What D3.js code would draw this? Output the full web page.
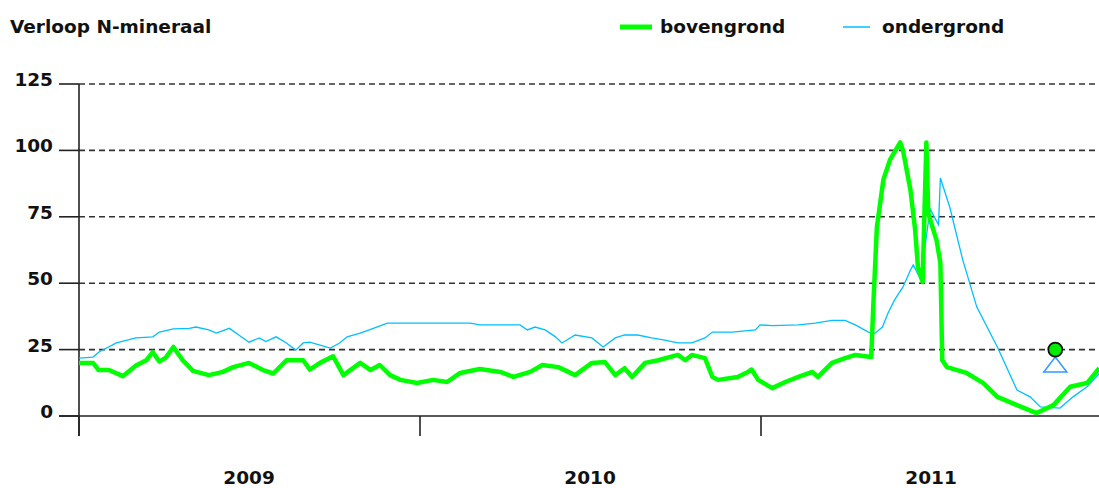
<html>
<head>
<script src="https://d3js.org/d3.v7.min.js"></script>
<style>
body { margin: 0; background: #fff; }
text { font-family: "DejaVu Sans", sans-serif; font-weight: bold; fill: #111; }
</style>
</head>
<body>
<svg width="1099" height="488"></svg>
<script>
// N-mineraal (kg N/ha) per datum
var bovengrond = [
  ["2009-01-01",20],["2009-01-16",20],["2009-01-22",17.3],["2009-02-02",17.3],["2009-02-17",15],
  ["2009-03-03",19],["2009-03-14",21],["2009-03-21",24],["2009-03-28",20.5],["2009-04-04",22],
  ["2009-04-12",26],["2009-04-22",21],["2009-05-03",17],["2009-05-20",15.4],["2009-06-04",16.6],
  ["2009-06-15",18.4],["2009-07-02",20],["2009-07-17",17.3],["2009-07-28",16],["2009-08-11",21],
  ["2009-08-29",21],["2009-09-05",17.5],["2009-09-16",20],["2009-09-30",22.5],["2009-10-11",15.4],
  ["2009-10-29",20],["2009-11-09",17.3],["2009-11-19",19.2],["2009-11-30",15.4],["2009-12-11",13.6],
  ["2009-12-29",12.4],["2010-01-15",13.6],["2010-01-30",12.8],["2010-02-13",16.2],["2010-03-06",17.7],
  ["2010-03-28",16.6],["2010-04-11",14.7],["2010-04-29",16.6],["2010-05-12",19.2],["2010-05-29",18.4],
  ["2010-06-16",15.4],["2010-07-04",20],["2010-07-18",20.3],["2010-07-29",15.4],["2010-08-08",18],
  ["2010-08-16",14.7],["2010-08-30",20],["2010-09-13",21],["2010-10-04",23],["2010-10-12",21],
  ["2010-10-19",23],["2010-11-02",21.8],["2010-11-10",14.7],["2010-11-16",13.6],["2010-12-07",14.7],
  ["2010-12-18",16.6],["2010-12-22",17.5],["2010-12-29",13.6],["2011-01-13",10.5],["2011-01-27",12.8],
  ["2011-02-10",14.7],["2011-02-25",16.6],["2011-03-03",14.7],["2011-03-18",20],["2011-04-01",21.8],
  ["2011-04-12",23],["2011-04-29",22.2],["2011-05-01",40],["2011-05-05",71],["2011-05-12",89],
  ["2011-05-19",96.4],["2011-05-30",103],["2011-06-02",100],["2011-06-10",85],["2011-06-15",70],
  ["2011-06-18",56],["2011-06-23",50.5],["2011-06-27",103],["2011-06-29",76.4],["2011-07-08",66],
  ["2011-07-12",57.6],["2011-07-14",21],["2011-07-19",18.4],["2011-07-30",17.3],["2011-08-09",16.2],
  ["2011-08-27",12.4],["2011-09-11",7.2],["2011-10-02",4.1],["2011-10-23",1.1],["2011-11-10",4.1],
  ["2011-11-28",11],["2011-12-16",12.4],["2011-12-29",18]
];

var ondergrond = [
  ["2009-01-01",21.8],["2009-01-16",22.2],["2009-01-22",24],["2009-02-10",27.5],["2009-03-03",29.4],
  ["2009-03-21",29.8],["2009-03-28",31.6],["2009-04-12",32.8],["2009-04-29",33],["2009-05-06",33.5],
  ["2009-05-20",32.4],["2009-05-28",31.2],["2009-06-11",33],["2009-06-21",30.5],["2009-07-02",27.8],
  ["2009-07-13",29.4],["2009-07-20",28],["2009-07-31",29.8],["2009-08-11",27.5],["2009-08-21",24.8],
  ["2009-08-29",27.5],["2009-09-05",27.8],["2009-09-16",26.7],["2009-09-27",25.6],["2009-10-07",27.5],
  ["2009-10-15",29.8],["2009-10-29",31.2],["2009-11-12",33],["2009-11-27",35],["2010-02-24",35],
  ["2010-03-06",34.3],["2010-04-18",34.3],["2010-04-26",32.4],["2010-05-04",33.5],["2010-05-15",32.4],
  ["2010-05-26",29.8],["2010-06-02",27.5],["2010-06-16",30.5],["2010-07-04",29.4],["2010-07-16",26],
  ["2010-07-29",29.4],["2010-08-08",30.5],["2010-08-22",30.5],["2010-09-06",29.4],["2010-09-20",28.6],
  ["2010-10-04",27.5],["2010-10-19",27.5],["2010-11-02",29.4],["2010-11-10",31.6],["2010-12-01",31.6],
  ["2010-12-26",32.4],["2010-12-31",34.3],["2011-01-13",34],["2011-02-10",34.3],["2011-02-28",35],
  ["2011-03-18",36],["2011-04-01",36],["2011-04-12",34.3],["2011-04-26",31.6],["2011-05-03",31.2],
  ["2011-05-11",33.5],["2011-05-17",38.8],["2011-05-24",43.7],["2011-06-02",48.6],["2011-06-10",55],
  ["2011-06-13",56.9],["2011-06-20",52],["2011-06-26",65],["2011-07-01",78],["2011-07-10",72],
  ["2011-07-12",89.6],["2011-07-22",78.7],["2011-08-05",58.7],["2011-08-20",41],["2011-09-11",26],
  ["2011-10-02",9.8],["2011-10-16",7.2],["2011-10-27",3.4],["2011-11-17",3],["2011-12-01",7.2],
  ["2011-12-16",11],["2011-12-29",16]
];

// gemeten monster
var meetDatum = ["2011-11-12"];
var meetBoven = [25];
var meetOnder = [19.4];

var yTicks = [0, 25, 50, 75, 100, 125];
var jaren = ["2009", "2010", "2011"];

var parse = d3.timeParse("%Y-%m-%d");
var svg = d3.select("svg");

var xscale = d3.scaleTime()
  .domain([parse("2009-01-01"), parse("2012-01-01")])
  .range([79, 1102]);
var yscale = d3.scaleLinear().domain([0, 125]).range([416, 84]);

// raster
yTicks.forEach(function(t) {
  if (t > 0) {
    svg.append("line")
      .attr("x1", 79).attr("x2", 1099)
      .attr("y1", yscale(t)).attr("y2", yscale(t))
      .attr("stroke", "#333").attr("stroke-width", 1.6)
      .attr("stroke-dasharray", "6,4");
  }
  svg.append("line")
    .attr("x1", 59).attr("x2", 79)
    .attr("y1", yscale(t)).attr("y2", yscale(t))
    .attr("stroke", "#222").attr("stroke-width", 1.6);
  svg.append("text").text(t)
    .attr("x", 53).attr("y", yscale(t) + 2)
    .attr("text-anchor", "end")
    .style("font-size", "18.5px");
});

// assen
svg.append("line").attr("x1", 59).attr("x2", 1099)
  .attr("y1", yscale(0)).attr("y2", yscale(0))
  .attr("stroke", "#222").attr("stroke-width", 1.6);
svg.append("line").attr("x1", 79).attr("x2", 79)
  .attr("y1", yscale(125)).attr("y2", 436)
  .attr("stroke", "#222").attr("stroke-width", 1.6);

jaren.forEach(function(j) {
  var x0 = xscale(parse(j + "-01-01"));
  svg.append("line").attr("x1", x0).attr("x2", x0)
    .attr("y1", yscale(0)).attr("y2", 436)
    .attr("stroke", "#222").attr("stroke-width", 1.6);
  svg.append("text").text(j)
    .attr("x", xscale(parse(j + "-07-02")))
    .attr("y", 484)
    .attr("text-anchor", "middle")
    .style("font-size", "18.5px");
});

var line = d3.line()
  .x(function(d) { return xscale(parse(d[0])); })
  .y(function(d) { return yscale(d[1]); });

svg.append("path").attr("d", line(ondergrond))
  .attr("fill", "none").attr("stroke", "#00c0ff").attr("stroke-width", 1.3);

svg.append("path").attr("d", line(bovengrond))
  .attr("fill", "none").attr("stroke", "#00ff00").attr("stroke-width", 4.5)
  .attr("stroke-linejoin", "round");

// meetpunt
for (var i = 0; i < meetDatum.length; i++) {
  var mx = xscale(parse(meetDatum[i]));
  var my = yscale(meetOnder[i]);
  svg.append("path")
    .attr("d", "M" + mx + "," + (my - 7.5) + "L" + (mx + 11.5) + "," + (my + 7.5) + "L" + (mx - 11.5) + "," + (my + 7.5) + "Z")
    .attr("fill", "#fff").attr("stroke", "#3399ff").attr("stroke-width", 1.5);
  svg.append("circle")
    .attr("cx", mx).attr("cy", yscale(meetBoven[i])).attr("r", 7)
    .attr("fill", "#00ee00").attr("stroke", "#111").attr("stroke-width", 1.8);
}

// titel en legenda
svg.append("text").text("Verloop N-mineraal")
  .attr("x", 10).attr("y", 33)
  .style("font-size", "18.5px");

svg.append("line").attr("x1", 620).attr("x2", 652).attr("y1", 27).attr("y2", 27)
  .attr("stroke", "#00ff00").attr("stroke-width", 5);
svg.append("text").text("bovengrond").attr("x", 660).attr("y", 33)
  .style("font-size", "18.5px");

svg.append("line").attr("x1", 843).attr("x2", 870).attr("y1", 27).attr("y2", 27)
  .attr("stroke", "#00c0ff").attr("stroke-width", 1.5);
svg.append("text").text("ondergrond").attr("x", 882).attr("y", 33)
  .style("font-size", "18.5px");
</script>
</body>
</html>
